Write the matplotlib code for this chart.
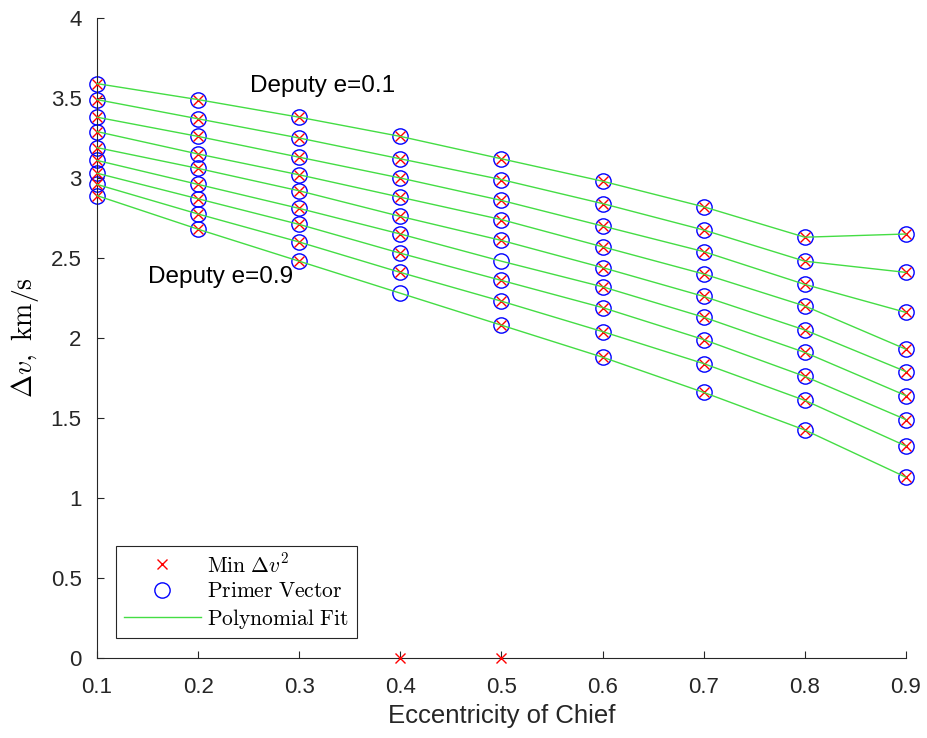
import numpy as np
import matplotlib
matplotlib.use("Agg")
import matplotlib.pyplot as plt

plt.rcParams["font.family"] = ["Liberation Sans", "DejaVu Sans"]
plt.rcParams["mathtext.fontset"] = "cm"

# chief eccentricities
chief_e = [0.1, 0.2, 0.3, 0.4, 0.5, 0.6, 0.7, 0.8, 0.9]

# primer vector dv (km/s), one row per deputy e = 0.1 ... 0.9
primer = [
    [3.59, 3.49, 3.38, 3.26, 3.12, 2.98, 2.82, 2.63, 2.65],
    [3.49, 3.37, 3.25, 3.12, 2.99, 2.84, 2.675, 2.48, 2.41],
    [3.38, 3.26, 3.13, 3.00, 2.86, 2.70, 2.54, 2.335, 2.16],
    [3.29, 3.15, 3.02, 2.88, 2.74, 2.57, 2.40, 2.20, 1.93],
    [3.19, 3.06, 2.92, 2.76, 2.61, 2.44, 2.26, 2.05, 1.79],
    [3.11, 2.96, 2.81, 2.65, 2.48, 2.32, 2.13, 1.91, 1.64],
    [3.03, 2.87, 2.71, 2.53, 2.36, 2.19, 1.99, 1.76, 1.49],
    [2.96, 2.775, 2.60, 2.41, 2.23, 2.04, 1.84, 1.61, 1.325],
    [2.89, 2.68, 2.48, 2.28, 2.08, 1.88, 1.66, 1.425, 1.13],
]

# min dv^2 solutions: same as primer except two failed cases (0)
min_dv2 = [row[:] for row in primer]
min_dv2[8][3] = 0.0
min_dv2[5][4] = 0.0

fig = plt.figure(figsize=(9.27, 7.38), dpi=100)
ax = fig.add_axes([0.1046, 0.1084, 0.8727, 0.8672])

for i in range(len(primer)):
    ax.plot(chief_e, min_dv2[i], linestyle="none", marker="x", color="red",
            markersize=7, markeredgewidth=1.0, clip_on=False,
            label=r"$\mathrm{Min}\ \Delta v^2$" if i == 0 else None, zorder=3)
    ax.plot(chief_e, primer[i], linestyle="none", marker="o", markerfacecolor="none",
            markeredgecolor="blue", markersize=11, markeredgewidth=1.0, clip_on=False,
            label=r"$\mathrm{Primer\ Vector}$" if i == 0 else None, zorder=2)
    ax.plot(chief_e, primer[i], color="#44dd44", linewidth=1.0, clip_on=False,
            label=r"$\mathrm{Polynomial\ Fit}$" if i == 0 else None, zorder=4)

ax.text(0.2513, 3.575, "Deputy e=0.1", fontsize=17.5, va="center", ha="left")
ax.text(0.150, 2.38, "Deputy e=0.9", fontsize=17.5, va="center", ha="left")

ax.set_xlim(0.1, 0.9)
ax.set_ylim(0, 4)
ax.set_xticks(chief_e)
ax.set_xticklabels([f"{v:g}" for v in chief_e])
ax.set_yticks(np.arange(0, 4.01, 0.5))
ax.set_yticklabels(["0", "0.5", "1", "1.5", "2", "2.5", "3", "3.5", "4"])
ax.tick_params(direction="in", labelsize=16, length=5, colors="#262626")
ax.tick_params(axis="x", pad=14)
ax.tick_params(axis="y", pad=11)
for lab in ax.get_xticklabels() + ax.get_yticklabels():
    lab.set_color("#262626")
ax.spines["top"].set_visible(False)
ax.spines["right"].set_visible(False)
ax.spines["left"].set_color("#262626")
ax.spines["bottom"].set_color("#262626")

ax.set_xlabel("Eccentricity of Chief", fontsize=18.5, color="#262626", labelpad=4)
ax.set_ylabel(r"$\Delta v,\ \mathrm{km/s}$", fontsize=20, labelpad=7)

leg = ax.legend(loc="lower left", bbox_to_anchor=(0.0235, 0.031), borderaxespad=0,
                fontsize=15.5, fancybox=False, framealpha=1, edgecolor="#262626",
                handlelength=3.6, handletextpad=0.3, labelspacing=0.2,
                borderpad=0.35)
leg.get_frame().set_linewidth(0.8)

fig.savefig("out.png", dpi=100)
